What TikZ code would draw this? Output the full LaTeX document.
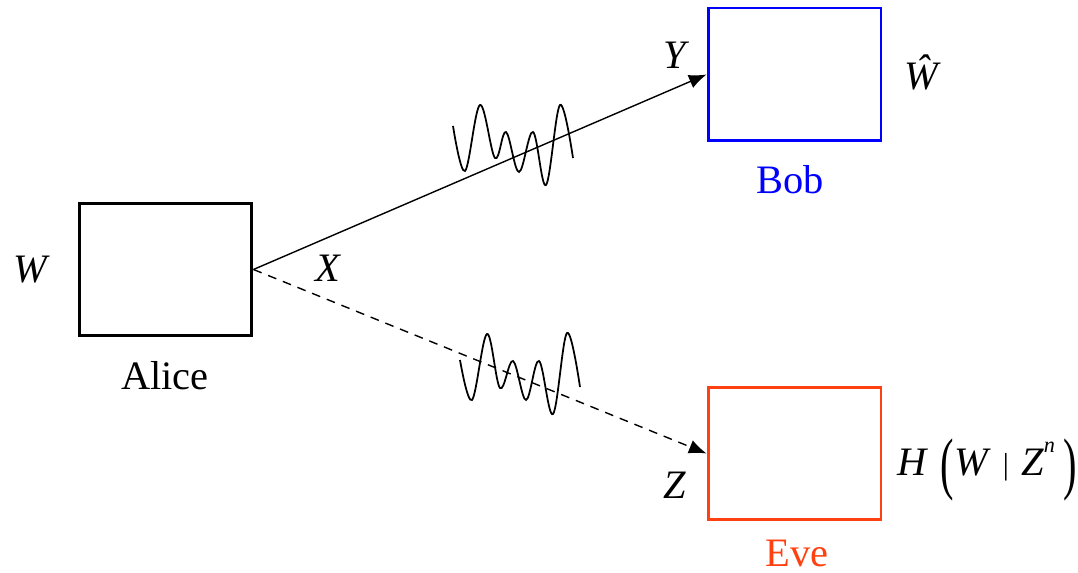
\documentclass[tikz,border=0pt]{standalone}
\usepackage{fontspec}
\usepackage{graphicx}
\setmainfont{Liberation Serif}
\usetikzlibrary{arrows.meta}
\definecolor{evered}{RGB}{255,64,16}
\definecolor{bobblue}{RGB}{0,0,255}
\tikzset{
  party/.style={draw, line width=1.7pt, minimum width=3.46cm, minimum height=2.66cm, inner sep=0pt},
  lbl/.style={inner sep=0pt, font=\fontsize{23}{27}\selectfont},
  link/.style={line width=0.8pt, -{Latex[length=10pt,width=8pt]}},
  wave/.style={line width=1pt, smooth, tension=0.6}
}
\begin{document}
\begin{tikzpicture}[x=0.02cm,y=-0.02cm]
\useasboundingbox (0,0) rectangle (1078,573);
\node[party] (alice) at (165.5,269.5) {};
\node[party, bobblue] (bob) at (794.5,74.5) {};
\node[party, evered] (eve) at (794.5,453.5) {};
\node[lbl] (w) at (32,270) {\textit{W}};
\node[lbl] (alicel) at (165,376) {Alice};
\node[lbl] (x) at (328,268) {\textit{X}};
\node[lbl] (y) at (677,55) {\textit{Y}};
\node[lbl] (what) at (923,72) {\textit{Ŵ}};
\node[lbl, text=bobblue] (bobl) at (790,180) {Bob};
\node[lbl] (z) at (675,485) {\textit{Z}};
\node[lbl, text=evered] (evel) at (797,553) {Eve};
\node[lbl] (h) at (987,470) {\textit{H}\kern0.3em\raisebox{-0.28em}{\scalebox{1}[1.7]{(}}\textit{W}\kern0.3em\raisebox{0.02em}{\scalebox{0.75}{|}}\kern0.3em\textit{Z}\raisebox{0.55em}{\scalebox{0.55}{\textit{n}}}\kern0.2em\raisebox{-0.28em}{\scalebox{1}[1.7]{)}}};
\draw[link] (alice.east) -- (bob.west);
\draw[link, dashed, dash pattern=on 5pt off 4pt] (alice.east) -- (eve.west);
\draw[wave] plot coordinates {(453,126) (465,171) (480,105) (495,158) (506,132) (519,172) (533,132) (546,185) (560,105) (573,158)};
\draw[wave] plot coordinates {(460,360) (472,400) (487,334) (500,388) (513,361) (526,400) (539,361) (553,414) (567,333) (580,387)};
\end{tikzpicture}
\end{document}
